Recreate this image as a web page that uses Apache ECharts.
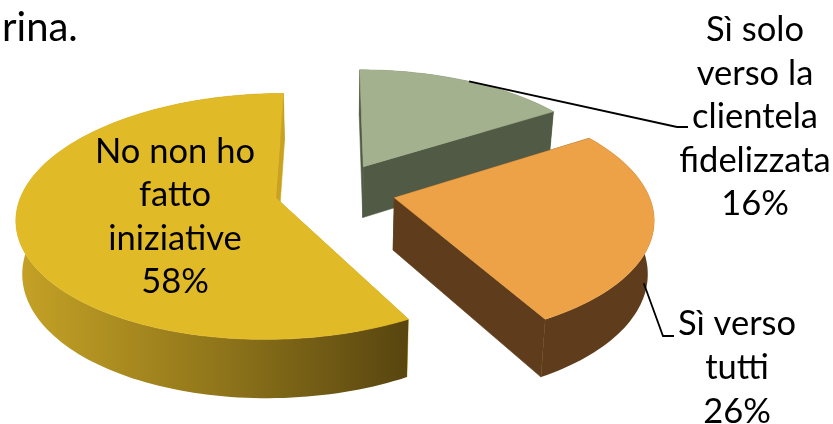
<!DOCTYPE html>
<html>
<head>
<meta charset="utf-8">
<style>html,body{margin:0;padding:0;background:#fff}#chart{width:833px;height:424px}</style>
<script src="https://cdn.jsdelivr.net/npm/echarts@6/dist/echarts.min.js"></script>
</head>
<body>
<div id="chart"></div>
<script>
// Survey answers, as percentages, clockwise from twelve o'clock.
const categories = ['Sì solo\nverso la\nclientela\nfidelizzata', 'Sì verso\ntutti', 'No non ho\nfatto\niniziative'];
const shares = [16, 26, 58];
const topColors = ['#A4B18E', '#EEA247', '#E1BA27'];
const wallColors = ['#515A45', '#5F3D1C', '#C9A320'];
const headingFragment = 'rina.';

// Perspective view of the exploded disc.
const view = { cx: 335, cy: 190.7, sx: 253, sy: 118, persp: 0.15, explode: 0.24, shrink: 0.98, drop: 52, stretch: 0.046 };
const labelFont = 'Lato';
const labelPlaces = [
  { x: 755, y: 117, lineHeight: 43.5 },
  { x: 737, y: 368, lineHeight: 44 },
  { x: 175, y: 217, lineHeight: 43.5 }
];
// Leader lines: angle on the outer rim where each starts, how far down the wall, then elbow and end.
const leaders = [
  { angle: 30, level: 0, elbow: [677, 127], end: [688, 127] },
  { angle: 113, level: 0.65, elbow: [663, 336], end: [674, 336] }
];

function project(u, v) {
  const w = 1 + view.persp * v;
  return [view.cx + view.sx * u / w, view.cy - view.sy * v / w];
}
function base(p) {
  return [view.cx + (p[0] - view.cx) * view.shrink,
          p[1] + view.drop + view.stretch * (p[1] - view.cy)];
}
function rad(d) { return d * Math.PI / 180; }

const total = shares.reduce((a, b) => a + b, 0);
const spans = [];
shares.reduce((from, s) => {
  const to = from + s / total * 360;
  spans.push([from, to]);
  return to;
}, 0);

function rimPoint(index, deg) {
  const mid = rad((spans[index][0] + spans[index][1]) / 2);
  return project(Math.sin(rad(deg)) + view.explode * Math.sin(mid),
                 Math.cos(rad(deg)) + view.explode * Math.cos(mid));
}
function apexPoint(index) {
  const mid = rad((spans[index][0] + spans[index][1]) / 2);
  return project(view.explode * Math.sin(mid), view.explode * Math.cos(mid));
}
function rim(index) {
  const [from, to] = spans[index];
  const n = Math.ceil((to - from) / 1.5);
  const pts = [];
  for (let i = 0; i <= n; i++) pts.push(rimPoint(index, from + (to - from) * i / n));
  return pts;
}

function renderSlice(params, api) {
  const i = params.dataIndex;
  const arc = rim(i);
  const apex = apexPoint(i);
  const arcBase = arc.map(base);
  const apexBase = base(apex);
  const first = arc[0], last = arc[arc.length - 1];
  const poly = (points, fill, seam) => ({
    type: 'polygon',
    shape: { points },
    style: seam ? { fill, stroke: fill, lineWidth: 0.6 } : { fill }
  });

  const outerFill = i !== 2
    ? wallColors[i]
    : new echarts.graphic.LinearGradient(15, 0, 400, 0, [
        { offset: 0, color: '#C6A326' },
        { offset: 0.5, color: '#93781B' },
        { offset: 1, color: '#5A4710' }
      ], true);

  // Painted back to front: hidden cut wall, curved wall, far cut wall, top face.
  return {
    type: 'group',
    children: [
      poly([apex, first, base(first), apexBase], wallColors[i], true),
      poly(arc.concat(arcBase.slice().reverse()), outerFill, false),
      poly([apex, last, base(last), apexBase], wallColors[i], true),
      poly([apex].concat(arc), topColors[i], true),
      {
        type: 'text',
        z2: 10,
        style: {
          x: labelPlaces[i].x, y: labelPlaces[i].y,
          text: categories[i] + '\n' + api.value(1) + '%',
          align: 'center', verticalAlign: 'middle',
          font: '34.5px ' + labelFont, lineHeight: labelPlaces[i].lineHeight, fill: '#000'
        }
      }
    ]
  };
}

const leaderLines = leaders.map((l, k) => {
  const top = rimPoint(k, l.angle);
  const low = base(top);
  const start = [top[0] + (low[0] - top[0]) * l.level, top[1] + (low[1] - top[1]) * l.level];
  return {
    type: 'polyline',
    z: 20,
    shape: { points: [start, l.elbow, l.end] },
    style: { stroke: '#000', lineWidth: 1.8, fill: null }
  };
});

const chart = echarts.init(document.getElementById('chart'), null, { renderer: 'canvas' });
chart.setOption({
  animation: false,
  backgroundColor: '#fff',
  series: [{
    type: 'custom',
    coordinateSystem: 'none',
    silent: true,
    renderItem: renderSlice,
    data: shares.map((s, i) => [i, s])
  }],
  graphic: leaderLines.concat([{
    type: 'text',
    left: 2,
    top: 8,
    z: 20,
    style: { text: headingFragment, font: '40px ' + labelFont, fill: '#000' }
  }])
});
</script>
</body>
</html>
